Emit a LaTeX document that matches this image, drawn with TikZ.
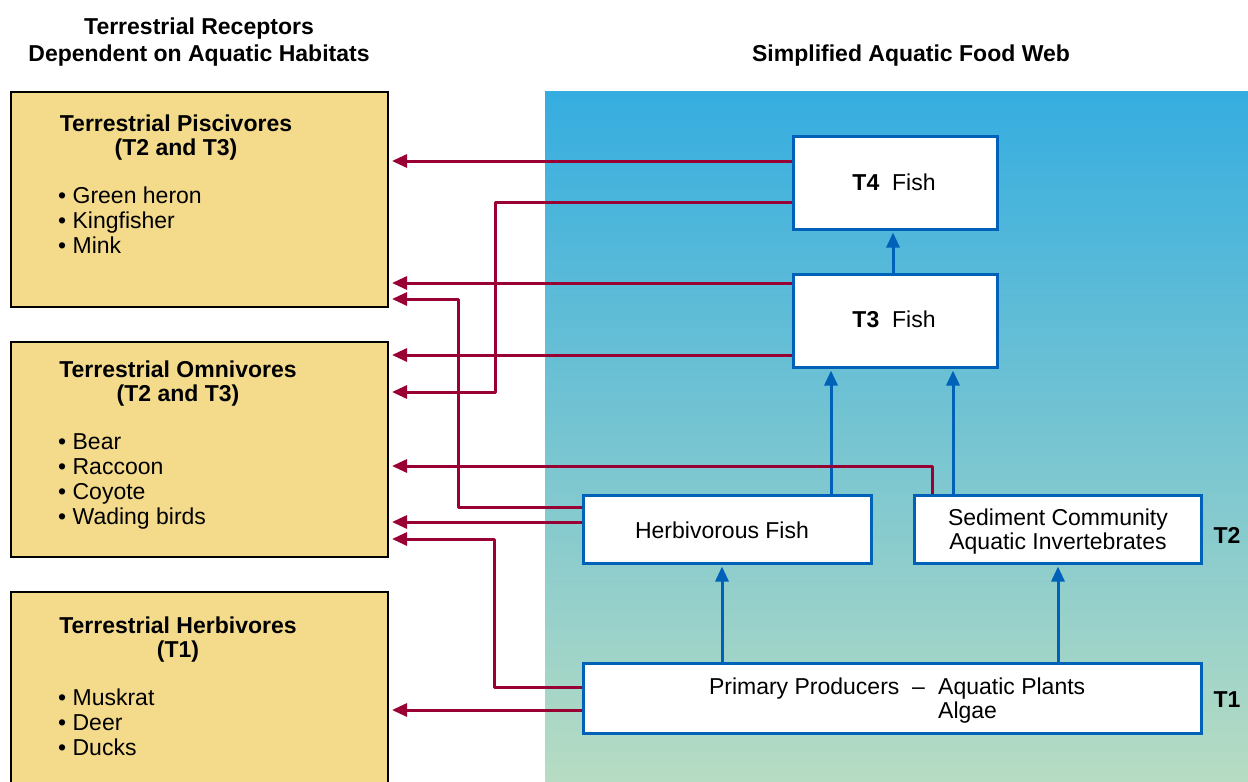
\documentclass[tikz,border=0pt]{standalone}
\usepackage{fontspec}
\setmainfont{Liberation Sans}
\usetikzlibrary{arrows.meta,calc}
\definecolor{tanfill}{HTML}{F4DB8B}
\definecolor{webred}{HTML}{990033}
\definecolor{webblue}{HTML}{0061B9}
\definecolor{seatop}{HTML}{35ADE0}
\definecolor{seamid}{HTML}{7AC6D0}
\definecolor{seabot}{HTML}{B7DCC3}
\tikzset{
  txt/.style={inner sep=0pt, font=\fontsize{23}{24}\selectfont},
  btxt/.style={inner sep=0pt, font=\fontsize{23}{24}\selectfont\bfseries},
  tanbox/.style={draw=black, line width=2pt, fill=tanfill, inner sep=0pt, minimum width=377pt, minimum height=215pt},
  webbox/.style={draw=webblue, line width=3pt, fill=white, inner sep=0pt},
  redc/.style={draw=webred, line width=3pt, line join=round, shorten >=3pt, -{Triangle[length=15pt,width=13pt]}},
  bluec/.style={draw=webblue, line width=3pt, shorten >=2pt, -{Triangle[length=15pt,width=13pt]}},
}
\begin{document}
\begin{tikzpicture}[x=1pt,y=-1pt]
\clip (0,0) rectangle (1248,782);
\fill[white] (0,0) rectangle (1248,782);
\shade[top color=seatop, middle color=seamid, bottom color=seabot] (545,91) rectangle (1248,782);

% titles
\node[btxt, anchor=base] (title1) at (199,34) {Terrestrial Receptors};
\node[btxt, anchor=base] (title2) at (199,61) {Dependent on Aquatic Habitats};
\node[btxt, anchor=base] (title3) at (911,61) {Simplified Aquatic Food Web};

% terrestrial boxes
\node[tanbox] (pisc) at (199.5,199.5) {};
\node[tanbox] (omni) at (199.5,449.5) {};
\node[tanbox] (herbiv) at (199.5,699.5) {};

\node[btxt, anchor=base] (piscH1) at (176,131) {Terrestrial Piscivores};
\node[btxt, anchor=base] (piscH2) at (176,155) {(T2 and T3)};
\node[txt, anchor=base west] (piscB1) at (58,203) {• Green heron};
\node[txt, anchor=base west] (piscB2) at (58,228) {• Kingfisher};
\node[txt, anchor=base west] (piscB3) at (58,253) {• Mink};

\node[btxt, anchor=base] (omniH1) at (178,377) {Terrestrial Omnivores};
\node[btxt, anchor=base] (omniH2) at (178,401) {(T2 and T3)};
\node[txt, anchor=base west] (omniB1) at (58,449) {• Bear};
\node[txt, anchor=base west] (omniB2) at (58,474) {• Raccoon};
\node[txt, anchor=base west] (omniB3) at (58,499) {• Coyote};
\node[txt, anchor=base west] (omniB4) at (58,524) {• Wading birds};

\node[btxt, anchor=base] (herbH1) at (178,633) {Terrestrial Herbivores};
\node[btxt, anchor=base] (herbH2) at (178,657) {(T1)};
\node[txt, anchor=base west] (herbB1) at (58,705) {• Muskrat};
\node[txt, anchor=base west] (herbB2) at (58,730) {• Deer};
\node[txt, anchor=base west] (herbB3) at (58,755) {• Ducks};

% aquatic boxes
\node[webbox, minimum width=204pt, minimum height=93pt] (t4) at (895,182.5) {};
\node[webbox, minimum width=204pt, minimum height=93pt] (t3) at (895,320.5) {};
\node[webbox, minimum width=288pt, minimum height=68pt] (herb) at (727,529) {};
\node[webbox, minimum width=287pt, minimum height=68pt] (sed) at (1057.5,529) {};
\node[webbox, minimum width=618pt, minimum height=70pt] (prim) at (892,698) {};

\node[txt, anchor=base] (t4txt) at (894,190) {\textbf{T4}\ \ Fish};
\node[txt, anchor=base] (t3txt) at (894,327) {\textbf{T3}\ \ Fish};
\node[txt, anchor=base] (herbtxt) at (722,538) {Herbivorous Fish};
\node[txt, anchor=base] (sedtxt1) at (1058,525) {Sediment Community};
\node[txt, anchor=base] (sedtxt2) at (1058,549) {Aquatic Invertebrates};
\node[txt, anchor=base east] (primtxt1) at (938,694) {Primary Producers\ \ –\ \ \mbox{}};
\node[txt, anchor=base west] (primtxt2) at (938,694) {Aquatic Plants};
\node[txt, anchor=base west] (primtxt3) at (938,718) {Algae};
\node[btxt, anchor=base] (lt2) at (1227,543) {T2};
\node[btxt, anchor=base] (lt1) at (1227,707) {T1};

% blue food web arrows
\draw[bluec] (t3.north -| 893,0) -- (t4.south -| 893,0);
\draw[bluec] (herb.north -| 831,0) -- (t3.south -| 831,0);
\draw[bluec] (sed.north -| 953,0) -- (t3.south -| 953,0);
\draw[bluec] (prim.north -| 722,0) -- (herb.south -| 722,0);
\draw[bluec] (prim.north -| 1058,0) -- (sed.south -| 1058,0);

% red exposure arrows
\draw[redc] (t4.west |- 0,161) -- (pisc.east |- 0,161);
\draw[redc] (t4.west |- 0,202) -| (495,392) -- (omni.east |- 0,392);
\draw[redc] (t3.west |- 0,283) -- (pisc.east |- 0,283);
\draw[redc] (t3.west |- 0,355) -- (omni.east |- 0,355);
\draw[redc] (herb.west |- 0,507) -| (458,299) -- (pisc.east |- 0,299);
\draw[redc] (herb.west |- 0,522) -- (omni.east |- 0,522);
\draw[redc] (sed.north -| 932,0) |- (omni.east |- 0,466);
\draw[redc] (prim.west |- 0,687) -| (494,539) -- (omni.east |- 0,539);
\draw[redc] (prim.west |- 0,710) -- (herbiv.east |- 0,710);
\end{tikzpicture}
\end{document}
